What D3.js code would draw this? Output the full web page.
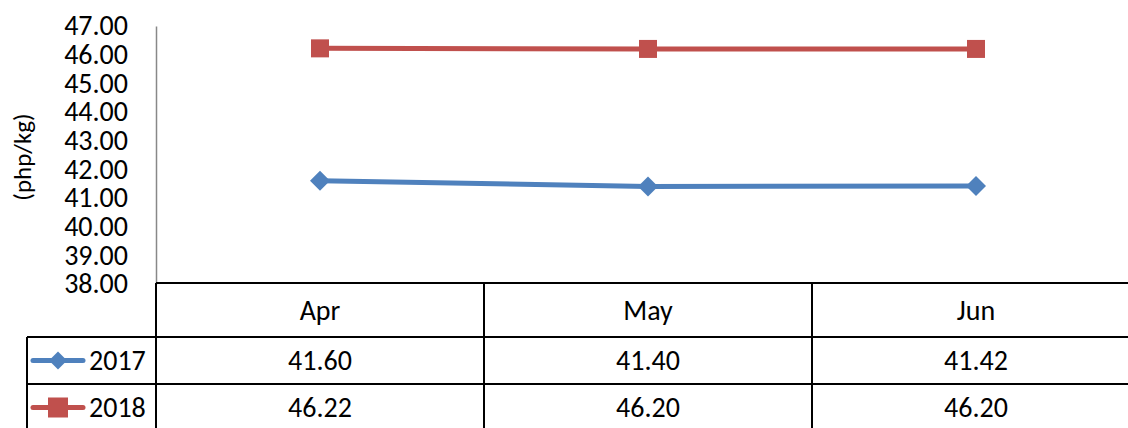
<!DOCTYPE html>
<html>
<head>
<meta charset="utf-8">
<script src="https://cdn.jsdelivr.net/npm/d3@7"></script>
<style>
  body { margin: 0; background: #fff; }
  svg text { font-family: Carlito, Lato, sans-serif; fill: #000; }
</style>
</head>
<body>
<div id="container"></div>
<script>
// data
var months = ["Apr", "May", "Jun"];
var years = ["2017", "2018"];
var values2017 = [41.60, 41.40, 41.42];
var values2018 = [46.22, 46.20, 46.20];
var yTicks = [38, 39, 40, 41, 42, 43, 44, 45, 46, 47];

var width = 1128,
    height = 428,
    plotLeft = 156,
    plotRight = 1140,
    plotTop = 26,
    plotBottom = 284,
    legendLeft = 27,
    rowH = 47,
    headerBottom = 337,
    fontSize = 28;

var series = [
  { name: years[0], values: values2017, color: "#4F81BD", marker: "diamond" },
  { name: years[1], values: values2018, color: "#C0504D", marker: "square" }
];

var svg = d3.select("#container")
  .append("svg")
  .attr("width", width)
  .attr("height", height);

// scales
var x = d3.scaleBand().domain(months).range([plotLeft, plotRight]);
var y = d3.scaleLinear().domain([38, 47]).range([plotBottom, plotTop]);

// y axis
var yAxis = svg.append("g")
  .attr("transform", "translate(" + plotLeft + ",0)")
  .call(d3.axisLeft(y).tickValues(yTicks).tickFormat(d3.format(".2f")).tickSize(0).tickPadding(28));
yAxis.select(".domain").attr("stroke", "#888").attr("stroke-width", 1.5);
yAxis.selectAll("text")
  .style("font-size", fontSize + "px")
  .style("font-family", "Carlito, Lato, sans-serif");

svg.append("text")
  .attr("transform", "translate(31," + 157 + ") rotate(-90)")
  .attr("text-anchor", "middle")
  .style("font-size", "25px")
  .text("(php/kg)");

// lines
var line = d3.line()
  .x(function (d, i) { return x(months[i]) + x.bandwidth() / 2; })
  .y(function (d) { return y(d); });

function drawMarker(g, type, color, cx, cy, s) {
  if (type === "diamond") {
    g.append("path")
      .attr("d", "M" + cx + "," + (cy - s) + "L" + (cx + s) + "," + cy + "L" + cx + "," + (cy + s) + "L" + (cx - s) + "," + cy + "Z")
      .attr("fill", color);
  } else {
    g.append("rect")
      .attr("x", cx - s).attr("y", cy - s)
      .attr("width", 2 * s).attr("height", 2 * s)
      .attr("fill", color);
  }
}

var lines = svg.append("g");
series.forEach(function (s) {
  lines.append("path")
    .datum(s.values)
    .attr("d", line)
    .attr("fill", "none")
    .attr("stroke", s.color)
    .attr("stroke-width", 5);
  s.values.forEach(function (v, i) {
    drawMarker(lines, s.marker, s.color, x(months[i]) + x.bandwidth() / 2, y(v), s.marker === "diamond" ? 10 : 9);
  });
});

// data table
var table = svg.append("g").attr("stroke", "#000").attr("stroke-width", 2);
table.append("line").attr("x1", plotLeft).attr("x2", width).attr("y1", plotBottom - 1).attr("y2", plotBottom - 1);
[headerBottom, headerBottom + rowH].forEach(function (yy) {
  table.append("line").attr("x1", legendLeft).attr("x2", width).attr("y1", yy).attr("y2", yy);
});
table.append("line").attr("x1", legendLeft).attr("x2", legendLeft).attr("y1", headerBottom).attr("y2", height);
months.forEach(function (m) {
  table.append("line").attr("x1", x(m)).attr("x2", x(m)).attr("y1", plotBottom - 1).attr("y2", height);
});

var cells = svg.append("g").style("font-size", fontSize + "px").attr("text-anchor", "middle");
months.forEach(function (m, i) {
  var cx = x(m) + x.bandwidth() / 2;
  cells.append("text").attr("x", cx).attr("y", (plotBottom + headerBottom) / 2).attr("dy", "0.35em").text(m);
  series.forEach(function (s, j) {
    cells.append("text")
      .attr("x", cx)
      .attr("y", headerBottom + rowH * j + rowH / 2)
      .attr("dy", "0.35em")
      .text(d3.format(".2f")(s.values[i]));
  });
});

// legend keys
series.forEach(function (s, j) {
  var cy = headerBottom + rowH * j + rowH / 2;
  var g = svg.append("g");
  g.append("line").attr("x1", 33).attr("x2", 83).attr("y1", cy).attr("y2", cy)
    .attr("stroke", s.color).attr("stroke-width", 5).attr("stroke-linecap", "round");
  drawMarker(g, s.marker, s.color, 58, cy, s.marker === "diamond" ? 9 : 10);
  g.append("text").attr("x", 89).attr("y", cy).attr("dy", "0.35em")
    .style("font-size", fontSize + "px").text(s.name);
});
</script>
</body>
</html>
